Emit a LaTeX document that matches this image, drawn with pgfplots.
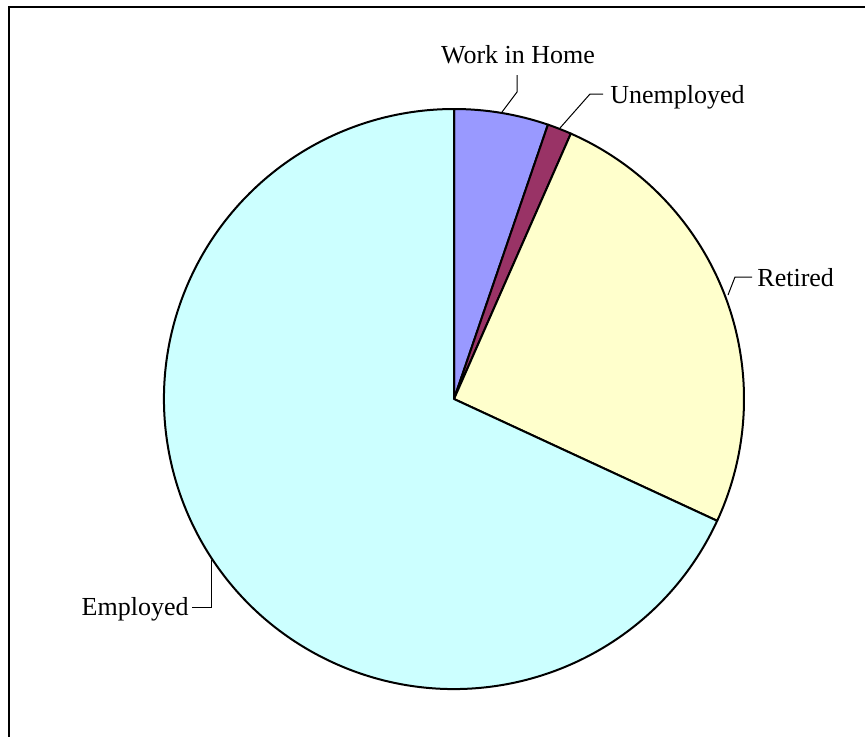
\documentclass[border=0pt]{standalone}
\usepackage{pgfplots}
\usepackage{pgfplotstable}
\pgfplotsset{compat=1.18}
\usepackage{fontspec}
\setmainfont{Liberation Serif}

\definecolor{cwih}{HTML}{9999FF}
\definecolor{cunemp}{HTML}{993366}
\definecolor{cret}{HTML}{FFFFCC}
\definecolor{cemp}{HTML}{CCFFFF}

% share of each group, in per cent, clockwise from 12 o'clock
\pgfplotstableread[col sep=comma]{
label,value,colour
Work in Home,5.25,cwih
Unemployed,1.35,cunemp
Retired,25.3,cret
Employed,68.1,cemp
}\piedata

\begin{document}
\begin{tikzpicture}
  \begin{axis}[%
      scale only axis,
      width=432.5pt,
      height=368pt,
      xmin=0, xmax=865,
      ymin=0, ymax=736,
      hide axis,
      clip=false,
    ]
    \coordinate (bl) at (rel axis cs:0,0);
    \coordinate (tr) at (rel axis cs:1,1);
    % outer frame, cut off at right and bottom
    \draw[line width=1pt] (axis cs:880,729) -- (axis cs:9,729) -- (axis cs:9,-20);
    % slices
    \def\start{90}
    \pgfplotsforeachungrouped \i in {0,...,3}{%
      \pgfplotstablegetelem{\i}{value}\of\piedata
      \let\v\pgfplotsretval
      \pgfplotstablegetelem{\i}{colour}\of\piedata
      \let\c\pgfplotsretval
      \pgfmathsetmacro\stop{\start-3.6*\v}
      \edef\temp{\noexpand\filldraw[fill=\c, draw=black, line width=1pt, line join=round]
        (axis cs:454,337) -- ++(\start:145pt)
        arc[start angle=\start, end angle=\stop, radius=145pt] -- cycle;}
      \temp
      \global\let\start\stop
    }
    % labels and leader lines
    \begin{scope}[every node/.style={inner sep=0pt, font=\fontsize{13}{15}\selectfont}]
      \node[anchor=base] at (axis cs:518,673) {Work in Home};
      \node[anchor=base west] at (axis cs:610,633) {Unemployed};
      \node[anchor=base west] at (axis cs:757,450) {Retired};
      \node[anchor=base east] at (axis cs:189,121) {Employed};
    \end{scope}
    \draw[line width=0.5pt] (axis cs:517,661) -- (axis cs:517,644) -- (axis cs:502,624);
    \draw[line width=0.5pt] (axis cs:603,642) -- (axis cs:590,642) -- (axis cs:560,608);
    \draw[line width=0.5pt] (axis cs:752,459) -- (axis cs:735,459) -- (axis cs:728,441);
    \draw[line width=0.5pt] (axis cs:192,129) -- (axis cs:211,129) -- (axis cs:211,176);
  \end{axis}
  \pgfresetboundingbox
  \useasboundingbox (bl) rectangle (tr);
\end{tikzpicture}
\end{document}
